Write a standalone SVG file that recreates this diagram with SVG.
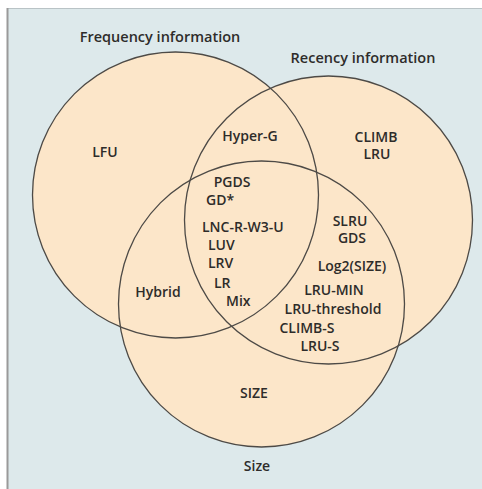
<svg xmlns="http://www.w3.org/2000/svg" width="482" height="489" viewBox="0 0 482 489">
  <style>
    .fill { fill: #fce6c9; stroke: none; }
    .ring { fill: none; stroke: #4d4a46; stroke-width: 1.3; }
    text { font-family: "Open Sans", "Liberation Sans", sans-serif; font-size: 14px; font-weight: 600; fill: #2e2c2a; }
    .title { font-size: 14.5px; }
    .c { text-anchor: middle; }
  </style>

  <!-- panel -->
  <rect x="0" y="0" width="482" height="489" fill="#ffffff"/>
  <rect x="7" y="8" width="475" height="481" fill="#dde9eb"/>
  <line x1="7" y1="8.5" x2="482" y2="8.5" stroke="#b9c3c6" stroke-width="1"/>
  <line x1="7.5" y1="8" x2="7.5" y2="489" stroke="#9a9a9a" stroke-width="2"/>

  <!-- shared fill of the three sets -->
  <g id="fills">
    <circle class="fill" cx="175.5" cy="195" r="143"/>
    <circle class="fill" cx="328.5" cy="220" r="144"/>
    <circle class="fill" cx="261.5" cy="304" r="143"/>
  </g>

  <g id="frequency">
    <circle class="ring" cx="175.5" cy="195" r="143"/>
    <text class="c title" x="160" y="42">Frequency information</text>
    <text class="c" x="105" y="157">LFU</text>
  </g>

  <g id="recency">
    <circle class="ring" cx="328.5" cy="220" r="144"/>
    <text class="c title" x="363" y="63">Recency information</text>
    <text class="c" x="376" y="142">CLIMB</text>
    <text class="c" x="377" y="159">LRU</text>
  </g>

  <g id="size">
    <circle class="ring" cx="261.5" cy="304" r="143"/>
    <text class="c" x="254" y="398">SIZE</text>
    <text class="c" x="257" y="471">Size</text>
  </g>

  <g id="frequency-recency">
    <text class="c" x="250" y="141">Hyper-G</text>
  </g>

  <g id="frequency-size">
    <text class="c" x="158" y="297">Hybrid</text>
  </g>

  <g id="all-three">
    <text class="c" x="232" y="187">PGDS</text>
    <text x="206" y="205">GD*</text>
    <text x="202" y="232">LNC-R-W3-U</text>
    <text x="208" y="250">LUV</text>
    <text x="208" y="268">LRV</text>
    <text x="214" y="288">LR</text>
    <text x="226" y="306">Mix</text>
  </g>

  <g id="recency-size">
    <text class="c" x="350" y="226">SLRU</text>
    <text class="c" x="352" y="243">GDS</text>
    <text class="c" x="352" y="271">Log2(SIZE)</text>
    <text class="c" x="334" y="295">LRU-MIN</text>
    <text class="c" x="333" y="314">LRU-threshold</text>
    <text class="c" x="307" y="333">CLIMB-S</text>
    <text class="c" x="320" y="351">LRU-S</text>
  </g>

  <g id="connectors"></g>
</svg>
